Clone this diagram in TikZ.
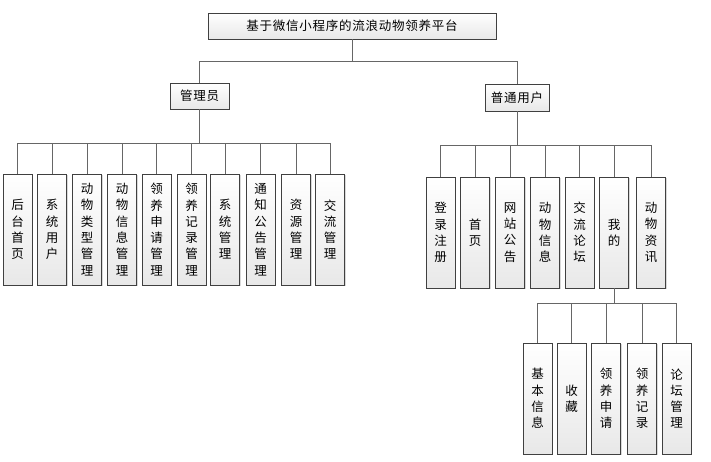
\documentclass[tikz,border=0pt]{standalone}
\usepackage{fontspec}
\setmainfont{Noto Sans CJK SC}
\newfontfamily\widecjk[LetterSpace=6]{Noto Sans CJK SC}
\usetikzlibrary{shadows}

\tikzset{
    box/.style={draw=black!75, rectangle, top color=white, bottom color=black!9,
        drop shadow={shadow xshift=1.2pt, shadow yshift=-1.2pt, opacity=0.3},
        inner sep=0pt, font=\fontsize{12.5}{16.3}\selectfont},
    hbox/.style={box, minimum height=26pt, font=\widecjk\fontsize{12.5}{14}\selectfont},
    vbox/.style={box, minimum width=29pt, minimum height=111pt, align=center},
    link/.style={draw=black!60, line width=0.9pt},
}

\begin{document}
\begin{tikzpicture}[x=1pt, y=-1pt]
    \useasboundingbox (0,0) rectangle (711,462);
    % root and the two roles
    \node (platform) [hbox, minimum width=288pt] at (352,26) {基于微信小程序的流浪动物领养平台};
    \node (admin) [hbox, minimum width=59pt] at (199.5,96) {管理员};
    \node (user) [hbox, minimum width=64pt, minimum height=27pt] at (517,97.5) {普通用户};
    \draw[link] (platform.south) -- ++(0,22) -| (admin.north);
    \draw[link] (platform.south) -- ++(0,22) -| (user.north);

    % admin functions
    \node (home) [vbox] at (17.5,229.5) {后\\台\\首\\页};
    \node (sysuser) [vbox] at (52,229.5) {系\\统\\用\\户};
    \node (pettype) [vbox] at (87,229.5) {动\\物\\类\\型\\管\\理};
    \node (petinfo) [vbox] at (122,229.5) {动\\物\\信\\息\\管\\理};
    \node (adoptreq) [vbox] at (156.5,229.5) {领\\养\\申\\请\\管\\理};
    \node (adoptrec) [vbox] at (191.5,229.5) {领\\养\\记\\录\\管\\理};
    \node (sysmgr) [vbox] at (225,229.5) {系\\统\\管\\理};
    \node (notice) [vbox] at (260.5,229.5) {通\\知\\公\\告\\管\\理};
    \node (resource) [vbox] at (296,229.5) {资\\源\\管\\理};
    \node (talk) [vbox] at (330,229.5) {交\\流\\管\\理};
    \draw[link] (admin.south) -- ++(0,34) -| (home.north);
    \draw[link] (admin.south) -- ++(0,34) -| (sysuser.north);
    \draw[link] (admin.south) -- ++(0,34) -| (pettype.north);
    \draw[link] (admin.south) -- ++(0,34) -| (petinfo.north);
    \draw[link] (admin.south) -- ++(0,34) -| (adoptreq.north);
    \draw[link] (admin.south) -- ++(0,34) -| (adoptrec.north);
    \draw[link] (admin.south) -- ++(0,34) -| (sysmgr.north);
    \draw[link] (admin.south) -- ++(0,34) -| (notice.north);
    \draw[link] (admin.south) -- ++(0,34) -| (resource.north);
    \draw[link] (admin.south) -- ++(0,34) -| (talk.north);

    % user functions
    \node (login) [vbox] at (440.5,232.5) {登\\录\\注\\册};
    \node (index) [vbox] at (475,232.5) {首\\页};
    \node (bulletin) [vbox] at (510,232.5) {网\\站\\公\\告};
    \node (animals) [vbox] at (545,232.5) {动\\物\\信\\息};
    \node (forum) [vbox] at (579.5,232.5) {交\\流\\论\\坛};
    \node (mine) [vbox] at (614,232.5) {我\\的};
    \node (news) [vbox] at (651,232.5) {动\\物\\资\\讯};
    \draw[link] (user.south) -- ++(0,34) -| (login.north);
    \draw[link] (user.south) -- ++(0,34) -| (index.north);
    \draw[link] (user.south) -- ++(0,34) -| (bulletin.north);
    \draw[link] (user.south) -- ++(0,34) -| (animals.north);
    \draw[link] (user.south) -- ++(0,34) -| (forum.north);
    \draw[link] (user.south) -- ++(0,34) -| (mine.north);
    \draw[link] (user.south) -- ++(0,34) -| (news.north);

    % my page
    \node (basic) [vbox] at (537.5,398.5) {基\\本\\信\\息};
    \node (favour) [vbox] at (571.5,398.5) {收\\藏};
    \node (myreq) [vbox] at (606,398.5) {领\\养\\申\\请};
    \node (myrec) [vbox] at (642,398.5) {领\\养\\记\\录};
    \node (myforum) [vbox] at (676.5,398.5) {论\\坛\\管\\理};
    \draw[link] (mine.south) -- ++(0,15) -| (basic.north);
    \draw[link] (mine.south) -- ++(0,15) -| (favour.north);
    \draw[link] (mine.south) -- ++(0,15) -| (myreq.north);
    \draw[link] (mine.south) -- ++(0,15) -| (myrec.north);
    \draw[link] (mine.south) -- ++(0,15) -| (myforum.north);
\end{tikzpicture}
\end{document}
